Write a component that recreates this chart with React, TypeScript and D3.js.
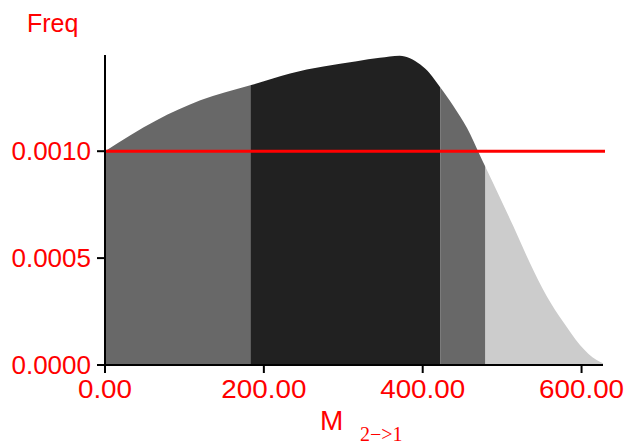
import React, { useEffect } from 'react';
import { scaleLinear, area, curveMonotoneX } from 'd3';

// density curve
const mValues = [0, 65, 120, 183, 233, 317, 346, 371, 397, 409, 422, 438, 456, 472, 488, 514, 535, 556, 577, 598, 619, 627];
const freqValues = [0.001, 0.001145, 0.001238, 0.001308, 0.001364, 0.001421, 0.001437, 0.001447, 0.001405, 0.001364, 0.001299, 0.001215, 0.001107, 0.000981, 0.000856, 0.00065, 0.000477, 0.000323, 0.000201, 0.000094, 0.000023, 0.000008];

// shaded bands: edges and fills
const bandEdges = [0, 183, 422, 479, 627];
const bandFills = ['#686868', '#212121', '#686868', '#cccccc'];

const xTicks = [0, 200, 400, 600];
const yTicks = [0, 0.0005, 0.001];
const refLine = 0.001;

const W = 626;
const H = 444;

function App() {
  useEffect(() => {
    document.body.style.margin = '0';
  }, []);

  const x = scaleLinear().domain([0, 627]).range([105, 603]);
  const y = scaleLinear().domain([0, 0.00145]).range([365, 55]);

  const pts = mValues.map((m, i) => [m, freqValues[i]] as [number, number]);
  const areaGen = area<[number, number]>()
    .x(d => x(d[0]))
    .y0(y(0))
    .y1(d => y(d[1]))
    .curve(curveMonotoneX);
  const d = areaGen(pts) || '';

  return (
    <svg width={W} height={H} style={{ display: 'block' }} fontFamily="'Liberation Sans', Arial, sans-serif">
      <defs>
        {bandFills.map((_, i) => (
          <clipPath id={`band${i}`} key={i}>
            <rect x={x(bandEdges[i])} y={0} width={x(bandEdges[i + 1]) - x(bandEdges[i])} height={H} />
          </clipPath>
        ))}
      </defs>
      {bandFills.map((fill, i) => (
        <path key={i} d={d} fill={fill} clipPath={`url(#band${i})`} />
      ))}

      {/* reference line */}
      <line x1={x(0)} x2={605} y1={y(refLine)} y2={y(refLine)} stroke="#ff0000" strokeWidth={3} />

      {/* axes */}
      <line x1={x(0)} x2={x(0)} y1={55} y2={366} stroke="#000" strokeWidth={2} />
      <line x1={x(0) - 1} x2={603} y1={y(0)} y2={y(0)} stroke="#000" strokeWidth={2} />
      {yTicks.map(t => (
        <g key={t}>
          <line x1={97} x2={x(0)} y1={y(t)} y2={y(t)} stroke="#000" strokeWidth={2} />
          <text x={91} y={y(t) + 9} textAnchor="end" fontSize={26} fill="#ff0000">{t.toFixed(4)}</text>
        </g>
      ))}
      {xTicks.map(t => (
        <g key={t}>
          <line x1={x(t)} x2={x(t)} y1={y(0)} y2={y(0) + 8} stroke="#000" strokeWidth={2} />
          <text x={x(t)} y={398} textAnchor="middle" fontSize={26} fill="#ff0000" transform={`translate(${x(t)},0) scale(1.07,1) translate(${-x(t)},0)`}>
            {t.toFixed(2)}
          </text>
        </g>
      ))}

      <text x={27} y={32} fontSize={25} fill="#ff0000">Freq</text>
      <text x={320} y={430} fontSize={28} fill="#ff0000">M</text>
      <text x={360} y={441} fontSize={20} fill="#ff0000" fontFamily="'Liberation Serif', 'Times New Roman', serif">2−&gt;1</text>
    </svg>
  );
}

export default App;
